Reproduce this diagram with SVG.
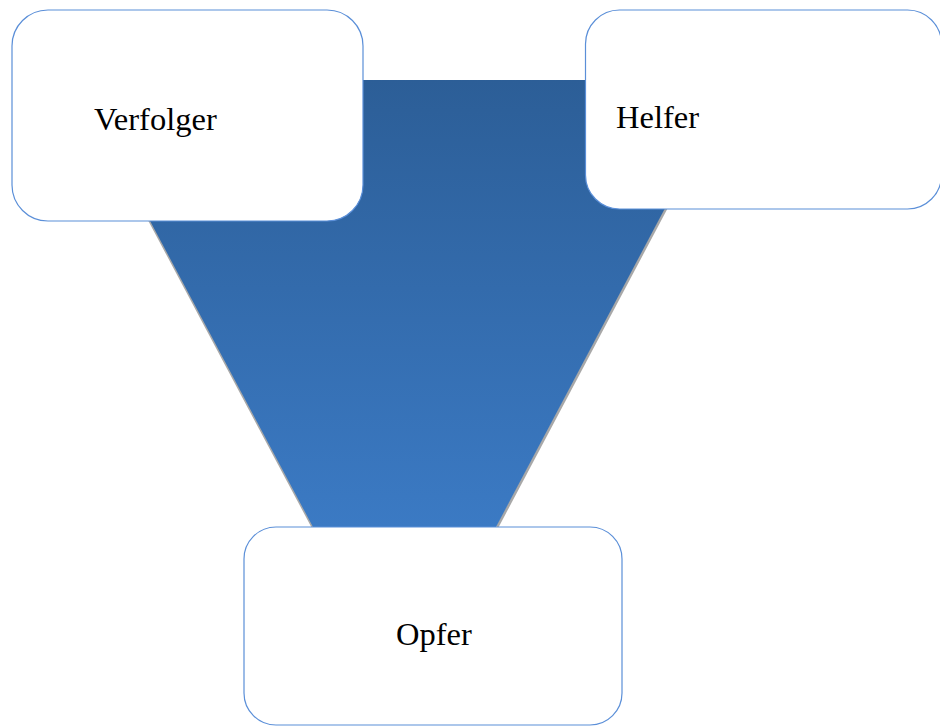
<svg xmlns="http://www.w3.org/2000/svg" width="940" height="726" viewBox="0 0 940 726">
  <style>
    .box { fill: #ffffff; stroke: #5b8fd8; stroke-width: 1.2; }
    .label { font-family: "Liberation Serif", "Times New Roman", serif; font-size: 32.5px; fill: #000000; }
    .rim { stroke: #a8a8a8; stroke-width: 3; fill: none; }
  </style>
  <defs>
    <linearGradient id="funnelFill" x1="0" y1="0" x2="0" y2="1">
      <stop offset="0" stop-color="#2c5e97"/>
      <stop offset="1" stop-color="#3b7ac4"/>
    </linearGradient>
  </defs>
  <rect width="940" height="726" fill="#ffffff"/>

  <!-- connecting funnel between the three roles, with a soft grey rim on its slanted sides -->
  <g id="connectors">
    <line class="rim" x1="75" y1="80" x2="313" y2="527"/>
    <line class="rim" x1="734" y1="80" x2="497" y2="527"/>
    <polygon points="75,80 733,80 496,527 313,527" fill="url(#funnelFill)"/>
  </g>

  <g id="verfolger">
    <rect class="box" x="12" y="10" width="351" height="211" rx="36" ry="36"/>
    <text class="label" x="94" y="129.5">Verfolger</text>
  </g>

  <g id="helfer">
    <rect class="box" x="585.5" y="10" width="356" height="199" rx="34" ry="34"/>
    <text class="label" x="616" y="128">Helfer</text>
  </g>

  <g id="opfer">
    <rect class="box" x="244" y="527" width="378" height="198" rx="32" ry="32"/>
    <text class="label" x="396" y="645">Opfer</text>
  </g>
</svg>
